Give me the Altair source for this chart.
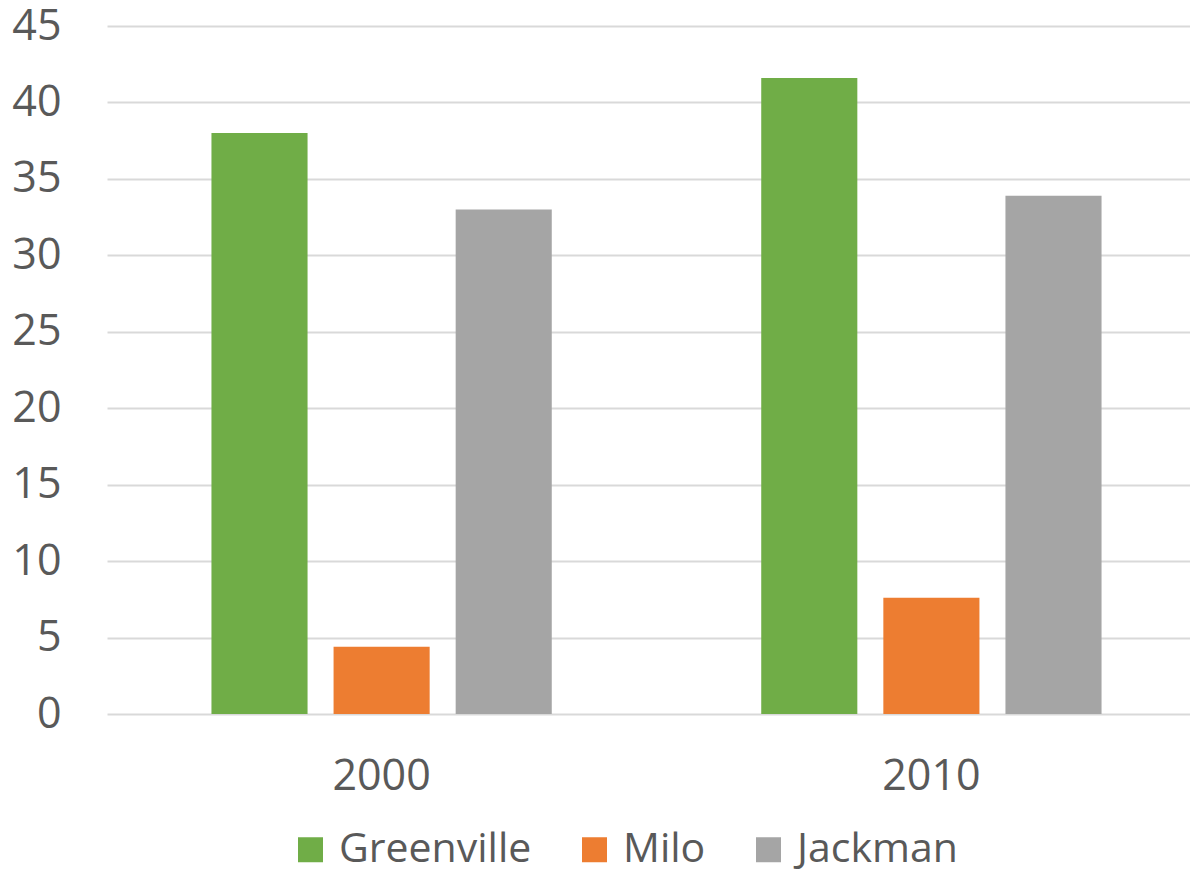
import altair as alt
import pandas as pd

years = ["2000", "2010"]
towns = ["Greenville", "Milo", "Jackman"]
greenville = [38.0, 41.6]
milo = [4.4, 7.6]
jackman = [33.0, 33.9]
colors = ["#70AD47", "#ED7D31", "#A5A5A5"]

rows = []
for i, y in enumerate(years):
    for t, vals in zip(towns, [greenville, milo, jackman]):
        rows.append({"year": y, "town": t, "value": vals[i]})
df = pd.DataFrame(rows)

FONT = "Open Sans"
TXT = "#595959"

chart = alt.Chart(df).mark_bar().encode(
    x=alt.X("year:N", sort=years,
            scale=alt.Scale(range=[0, 1099], paddingInner=0.381, paddingOuter=0.19),
            axis=alt.Axis(title=None, labelAngle=0, labelFont=FONT, labelFontSize=43,
                          labelColor=TXT, labelPadding=41, ticks=False, domain=False,
                          grid=False)),
    xOffset=alt.XOffset("town:N", sort=towns,
                        scale=alt.Scale(paddingInner=0.213, paddingOuter=0)),
    y=alt.Y("value:Q", scale=alt.Scale(domain=[0, 45], nice=False),
            axis=alt.Axis(title=None, values=list(range(0, 46, 5)), labelFont=FONT,
                          labelFontSize=43, labelColor=TXT, labelPadding=46,
                          ticks=False, domain=False, gridColor="#D9D9D9",
                          gridWidth=2)),
    color=alt.Color("town:N", sort=towns,
                    scale=alt.Scale(domain=towns, range=colors),
                    legend=alt.Legend(title=None, orient="none", direction="horizontal",
                                      legendX=183, legendY=803,
                                      symbolType="square", symbolSize=625,
                                      symbolStrokeWidth=0, labelLimit=0,
                                      labelFont=FONT, labelFontSize=41,
                                      labelColor=TXT, labelOffset=8,
                                      columnPadding=42)),
).properties(
    width=1083, height=688,
    autosize=alt.AutoSizeParams(type="none"),
    padding={"left": 99, "top": 18, "right": 0, "bottom": 155},
).configure_view(stroke=None)

chart.save("out.html", embed_options={"renderer": "svg", "actions": False})
